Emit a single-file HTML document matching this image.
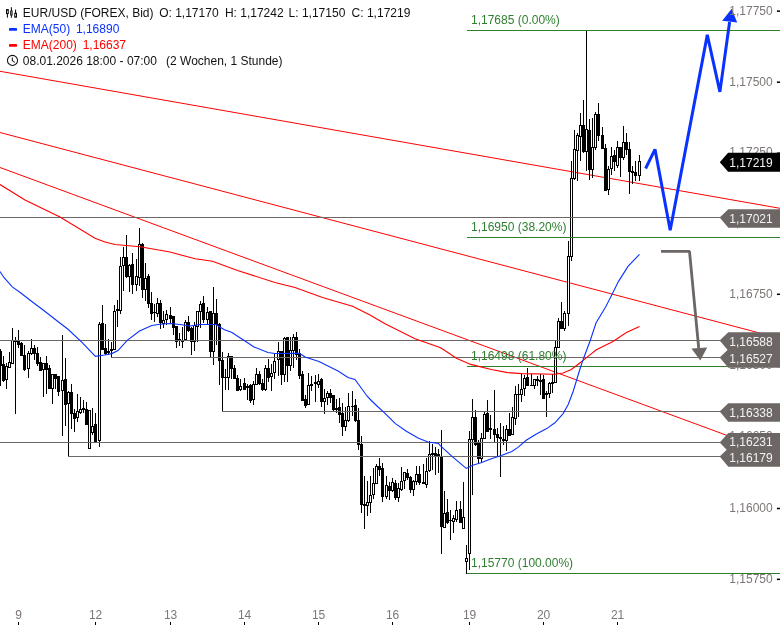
<!DOCTYPE html><html><head><meta charset="utf-8"><title>EUR/USD</title><style>html,body{margin:0;padding:0;background:#fff}body{width:780px;height:625px;overflow:hidden;position:relative;font-family:"Liberation Sans",sans-serif}svg{position:absolute;left:0;top:0;will-change:transform}text{font-family:"Liberation Sans",sans-serif;font-size:12px}</style></head><body>
<svg width="780" height="625" viewBox="0 0 780 625">
<g fill="#7d7775" text-anchor="middle">
<text x="18.6" y="619">9</text>
<rect x="18" y="622" width="1" height="3" fill="#000" shape-rendering="crispEdges"/>
<text x="95.6" y="619">12</text>
<rect x="95" y="622" width="1" height="3" fill="#000" shape-rendering="crispEdges"/>
<text x="170.6" y="619">13</text>
<rect x="170" y="622" width="1" height="3" fill="#000" shape-rendering="crispEdges"/>
<text x="244.6" y="619">14</text>
<rect x="244" y="622" width="1" height="3" fill="#000" shape-rendering="crispEdges"/>
<text x="318.6" y="619">15</text>
<rect x="318" y="622" width="1" height="3" fill="#000" shape-rendering="crispEdges"/>
<text x="392.6" y="619">16</text>
<rect x="392" y="622" width="1" height="3" fill="#000" shape-rendering="crispEdges"/>
<text x="469.6" y="619">19</text>
<rect x="469" y="622" width="1" height="3" fill="#000" shape-rendering="crispEdges"/>
<text x="543.6" y="619">20</text>
<rect x="543" y="622" width="1" height="3" fill="#000" shape-rendering="crispEdges"/>
<text x="617.6" y="619">21</text>
<rect x="617" y="622" width="1" height="3" fill="#000" shape-rendering="crispEdges"/>
</g>
<g stroke="#ff0000" stroke-width="1" fill="none">
<line x1="0" y1="71.3" x2="780" y2="208.3"/>
<line x1="0" y1="132.5" x2="780" y2="338.4"/>
<line x1="0" y1="167.5" x2="728" y2="435.8"/>
</g>
<g shape-rendering="crispEdges">
<rect x="0" y="349" width="1" height="37" fill="#000"/>
<rect x="3" y="356" width="1" height="26" fill="#000"/>
<rect x="6" y="363" width="1" height="26" fill="#000"/>
<rect x="9" y="352" width="1" height="16" fill="#000"/>
<rect x="12" y="328" width="1" height="36" fill="#000"/>
<rect x="15" y="337" width="1" height="77" fill="#000"/>
<rect x="18" y="330" width="1" height="18" fill="#000"/>
<rect x="21" y="342" width="1" height="14" fill="#000"/>
<rect x="24" y="345" width="1" height="26" fill="#000"/>
<rect x="28" y="351" width="1" height="27" fill="#000"/>
<rect x="31" y="339" width="1" height="16" fill="#000"/>
<rect x="34" y="345" width="1" height="15" fill="#000"/>
<rect x="37" y="347" width="1" height="19" fill="#000"/>
<rect x="40" y="357" width="1" height="14" fill="#000"/>
<rect x="43" y="363" width="1" height="34" fill="#000"/>
<rect x="46" y="356" width="1" height="38" fill="#000"/>
<rect x="49" y="365" width="1" height="24" fill="#000"/>
<rect x="52" y="374" width="1" height="30" fill="#000"/>
<rect x="55" y="374" width="1" height="15" fill="#000"/>
<rect x="58" y="376" width="1" height="20" fill="#000"/>
<rect x="62" y="335" width="1" height="101" fill="#000"/>
<rect x="65" y="358" width="1" height="68" fill="#000"/>
<rect x="68" y="391" width="1" height="66" fill="#000"/>
<rect x="71" y="384" width="1" height="45" fill="#000"/>
<rect x="74" y="409" width="1" height="23" fill="#000"/>
<rect x="77" y="394" width="1" height="28" fill="#000"/>
<rect x="80" y="397" width="1" height="17" fill="#000"/>
<rect x="83" y="400" width="1" height="13" fill="#000"/>
<rect x="86" y="402" width="1" height="23" fill="#000"/>
<rect x="89" y="410" width="1" height="39" fill="#000"/>
<rect x="92" y="408" width="1" height="27" fill="#000"/>
<rect x="95" y="413" width="1" height="30" fill="#000"/>
<rect x="99" y="322" width="1" height="125" fill="#000"/>
<rect x="102" y="305" width="1" height="45" fill="#000"/>
<rect x="105" y="324" width="1" height="31" fill="#000"/>
<rect x="108" y="339" width="1" height="16" fill="#000"/>
<rect x="111" y="342" width="1" height="16" fill="#000"/>
<rect x="114" y="305" width="1" height="45" fill="#000"/>
<rect x="117" y="300" width="1" height="27" fill="#000"/>
<rect x="120" y="257" width="1" height="57" fill="#000"/>
<rect x="123" y="247" width="1" height="44" fill="#000"/>
<rect x="126" y="235" width="1" height="43" fill="#000"/>
<rect x="129" y="264" width="1" height="28" fill="#000"/>
<rect x="132" y="253" width="1" height="41" fill="#000"/>
<rect x="136" y="259" width="1" height="32" fill="#000"/>
<rect x="139" y="228" width="1" height="58" fill="#000"/>
<rect x="142" y="243" width="1" height="55" fill="#000"/>
<rect x="145" y="263" width="1" height="38" fill="#000"/>
<rect x="148" y="274" width="1" height="34" fill="#000"/>
<rect x="151" y="292" width="1" height="28" fill="#000"/>
<rect x="154" y="304" width="1" height="18" fill="#000"/>
<rect x="157" y="298" width="1" height="19" fill="#000"/>
<rect x="160" y="300" width="1" height="29" fill="#000"/>
<rect x="163" y="311" width="1" height="17" fill="#000"/>
<rect x="166" y="310" width="1" height="15" fill="#000"/>
<rect x="170" y="307" width="1" height="16" fill="#000"/>
<rect x="173" y="316" width="1" height="19" fill="#000"/>
<rect x="176" y="326" width="1" height="22" fill="#000"/>
<rect x="179" y="333" width="1" height="13" fill="#000"/>
<rect x="182" y="327" width="1" height="21" fill="#000"/>
<rect x="185" y="320" width="1" height="20" fill="#000"/>
<rect x="188" y="316" width="1" height="16" fill="#000"/>
<rect x="191" y="327" width="1" height="28" fill="#000"/>
<rect x="194" y="322" width="1" height="29" fill="#000"/>
<rect x="197" y="311" width="1" height="31" fill="#000"/>
<rect x="200" y="301" width="1" height="27" fill="#000"/>
<rect x="203" y="296" width="1" height="27" fill="#000"/>
<rect x="207" y="307" width="1" height="17" fill="#000"/>
<rect x="210" y="311" width="1" height="47" fill="#000"/>
<rect x="213" y="287" width="1" height="78" fill="#000"/>
<rect x="216" y="299" width="1" height="46" fill="#000"/>
<rect x="219" y="323" width="1" height="62" fill="#000"/>
<rect x="222" y="352" width="1" height="60" fill="#000"/>
<rect x="225" y="369" width="1" height="21" fill="#000"/>
<rect x="228" y="353" width="1" height="37" fill="#000"/>
<rect x="231" y="356" width="1" height="23" fill="#000"/>
<rect x="234" y="365" width="1" height="14" fill="#000"/>
<rect x="237" y="375" width="1" height="16" fill="#000"/>
<rect x="240" y="379" width="1" height="12" fill="#000"/>
<rect x="244" y="378" width="1" height="12" fill="#000"/>
<rect x="247" y="384" width="1" height="16" fill="#000"/>
<rect x="250" y="384" width="1" height="19" fill="#000"/>
<rect x="253" y="381" width="1" height="24" fill="#000"/>
<rect x="256" y="368" width="1" height="17" fill="#000"/>
<rect x="259" y="371" width="1" height="14" fill="#000"/>
<rect x="262" y="379" width="1" height="12" fill="#000"/>
<rect x="265" y="365" width="1" height="26" fill="#000"/>
<rect x="268" y="359" width="1" height="23" fill="#000"/>
<rect x="271" y="364" width="1" height="27" fill="#000"/>
<rect x="274" y="354" width="1" height="25" fill="#000"/>
<rect x="278" y="342" width="1" height="34" fill="#000"/>
<rect x="281" y="351" width="1" height="34" fill="#000"/>
<rect x="284" y="337" width="1" height="45" fill="#000"/>
<rect x="287" y="337" width="1" height="45" fill="#000"/>
<rect x="290" y="337" width="1" height="34" fill="#000"/>
<rect x="293" y="334" width="1" height="34" fill="#000"/>
<rect x="296" y="332" width="1" height="28" fill="#000"/>
<rect x="299" y="349" width="1" height="30" fill="#000"/>
<rect x="302" y="371" width="1" height="30" fill="#000"/>
<rect x="305" y="395" width="1" height="13" fill="#000"/>
<rect x="308" y="373" width="1" height="32" fill="#000"/>
<rect x="311" y="376" width="1" height="15" fill="#000"/>
<rect x="315" y="375" width="1" height="27" fill="#000"/>
<rect x="318" y="374" width="1" height="14" fill="#000"/>
<rect x="321" y="378" width="1" height="29" fill="#000"/>
<rect x="324" y="389" width="1" height="25" fill="#000"/>
<rect x="327" y="391" width="1" height="14" fill="#000"/>
<rect x="330" y="389" width="1" height="14" fill="#000"/>
<rect x="333" y="395" width="1" height="16" fill="#000"/>
<rect x="336" y="399" width="1" height="14" fill="#000"/>
<rect x="339" y="398" width="1" height="25" fill="#000"/>
<rect x="342" y="403" width="1" height="33" fill="#000"/>
<rect x="345" y="407" width="1" height="24" fill="#000"/>
<rect x="348" y="393" width="1" height="29" fill="#000"/>
<rect x="352" y="391" width="1" height="25" fill="#000"/>
<rect x="355" y="399" width="1" height="23" fill="#000"/>
<rect x="358" y="408" width="1" height="42" fill="#000"/>
<rect x="361" y="436" width="1" height="77" fill="#000"/>
<rect x="364" y="476" width="1" height="53" fill="#000"/>
<rect x="367" y="481" width="1" height="35" fill="#000"/>
<rect x="370" y="476" width="1" height="37" fill="#000"/>
<rect x="373" y="468" width="1" height="31" fill="#000"/>
<rect x="376" y="464" width="1" height="20" fill="#000"/>
<rect x="379" y="458" width="1" height="18" fill="#000"/>
<rect x="382" y="463" width="1" height="39" fill="#000"/>
<rect x="386" y="476" width="1" height="23" fill="#000"/>
<rect x="389" y="482" width="1" height="18" fill="#000"/>
<rect x="392" y="478" width="1" height="14" fill="#000"/>
<rect x="395" y="480" width="1" height="20" fill="#000"/>
<rect x="398" y="483" width="1" height="19" fill="#000"/>
<rect x="401" y="467" width="1" height="24" fill="#000"/>
<rect x="404" y="472" width="1" height="17" fill="#000"/>
<rect x="407" y="469" width="1" height="11" fill="#000"/>
<rect x="410" y="476" width="1" height="17" fill="#000"/>
<rect x="413" y="480" width="1" height="16" fill="#000"/>
<rect x="416" y="466" width="1" height="19" fill="#000"/>
<rect x="419" y="466" width="1" height="19" fill="#000"/>
<rect x="423" y="464" width="1" height="20" fill="#000"/>
<rect x="426" y="458" width="1" height="30" fill="#000"/>
<rect x="429" y="441" width="1" height="31" fill="#000"/>
<rect x="432" y="444" width="1" height="26" fill="#000"/>
<rect x="435" y="447" width="1" height="28" fill="#000"/>
<rect x="438" y="449" width="1" height="24" fill="#000"/>
<rect x="441" y="430" width="1" height="124" fill="#000"/>
<rect x="444" y="491" width="1" height="37" fill="#000"/>
<rect x="447" y="499" width="1" height="25" fill="#000"/>
<rect x="450" y="510" width="1" height="30" fill="#000"/>
<rect x="453" y="515" width="1" height="18" fill="#000"/>
<rect x="456" y="501" width="1" height="21" fill="#000"/>
<rect x="460" y="501" width="1" height="22" fill="#000"/>
<rect x="463" y="482" width="1" height="47" fill="#000"/>
<rect x="466" y="545" width="1" height="29" fill="#000"/>
<rect x="469" y="431" width="1" height="139" fill="#000"/>
<rect x="472" y="399" width="1" height="96" fill="#000"/>
<rect x="475" y="410" width="1" height="36" fill="#000"/>
<rect x="478" y="440" width="1" height="23" fill="#000"/>
<rect x="481" y="433" width="1" height="29" fill="#000"/>
<rect x="484" y="412" width="1" height="27" fill="#000"/>
<rect x="487" y="400" width="1" height="32" fill="#000"/>
<rect x="490" y="415" width="1" height="24" fill="#000"/>
<rect x="494" y="390" width="1" height="53" fill="#000"/>
<rect x="497" y="428" width="1" height="29" fill="#000"/>
<rect x="500" y="423" width="1" height="54" fill="#000"/>
<rect x="503" y="426" width="1" height="19" fill="#000"/>
<rect x="506" y="425" width="1" height="26" fill="#000"/>
<rect x="509" y="413" width="1" height="23" fill="#000"/>
<rect x="512" y="407" width="1" height="28" fill="#000"/>
<rect x="515" y="386" width="1" height="39" fill="#000"/>
<rect x="518" y="384" width="1" height="33" fill="#000"/>
<rect x="521" y="374" width="1" height="28" fill="#000"/>
<rect x="524" y="375" width="1" height="21" fill="#000"/>
<rect x="527" y="368" width="1" height="18" fill="#000"/>
<rect x="531" y="374" width="1" height="12" fill="#000"/>
<rect x="534" y="379" width="1" height="10" fill="#000"/>
<rect x="537" y="376" width="1" height="10" fill="#000"/>
<rect x="540" y="374" width="1" height="21" fill="#000"/>
<rect x="543" y="375" width="1" height="24" fill="#000"/>
<rect x="546" y="391" width="1" height="26" fill="#000"/>
<rect x="549" y="382" width="1" height="16" fill="#000"/>
<rect x="552" y="374" width="1" height="19" fill="#000"/>
<rect x="555" y="340" width="1" height="43" fill="#000"/>
<rect x="558" y="318" width="1" height="30" fill="#000"/>
<rect x="561" y="302" width="1" height="27" fill="#000"/>
<rect x="564" y="311" width="1" height="20" fill="#000"/>
<rect x="568" y="241" width="1" height="85" fill="#000"/>
<rect x="571" y="161" width="1" height="100" fill="#000"/>
<rect x="574" y="130" width="1" height="50" fill="#000"/>
<rect x="577" y="133" width="1" height="48" fill="#000"/>
<rect x="580" y="113" width="1" height="48" fill="#000"/>
<rect x="583" y="100" width="1" height="53" fill="#000"/>
<rect x="586" y="30" width="1" height="141" fill="#000"/>
<rect x="589" y="119" width="1" height="61" fill="#000"/>
<rect x="592" y="118" width="1" height="60" fill="#000"/>
<rect x="595" y="112" width="1" height="38" fill="#000"/>
<rect x="598" y="103" width="1" height="38" fill="#000"/>
<rect x="602" y="127" width="1" height="22" fill="#000"/>
<rect x="605" y="144" width="1" height="47" fill="#000"/>
<rect x="608" y="166" width="1" height="29" fill="#000"/>
<rect x="611" y="147" width="1" height="28" fill="#000"/>
<rect x="614" y="150" width="1" height="21" fill="#000"/>
<rect x="617" y="141" width="1" height="27" fill="#000"/>
<rect x="620" y="147" width="1" height="30" fill="#000"/>
<rect x="623" y="126" width="1" height="34" fill="#000"/>
<rect x="626" y="133" width="1" height="22" fill="#000"/>
<rect x="629" y="142" width="1" height="52" fill="#000"/>
<rect x="632" y="166" width="1" height="18" fill="#000"/>
<rect x="635" y="161" width="1" height="20" fill="#000"/>
<rect x="639" y="155" width="1" height="26" fill="#000"/>
<rect x="-1" y="351" width="3" height="15" fill="#000"/>
<rect x="2" y="364" width="3" height="17" fill="#000"/>
<rect x="5" y="366" width="3" height="14" fill="#000"/><rect x="6" y="367" width="1" height="12" fill="#fff"/>
<rect x="8" y="362" width="3" height="6" fill="#000"/><rect x="9" y="363" width="1" height="4" fill="#fff"/>
<rect x="11" y="340" width="3" height="24" fill="#000"/><rect x="12" y="341" width="1" height="22" fill="#fff"/>
<rect x="14" y="340" width="3" height="2" fill="#000"/>
<rect x="17" y="341" width="3" height="4" fill="#000"/>
<rect x="20" y="343" width="3" height="13" fill="#000"/>
<rect x="23" y="355" width="3" height="15" fill="#000"/>
<rect x="27" y="353" width="3" height="16" fill="#000"/><rect x="28" y="354" width="1" height="14" fill="#fff"/>
<rect x="30" y="348" width="3" height="6" fill="#000"/><rect x="31" y="349" width="1" height="4" fill="#fff"/>
<rect x="33" y="348" width="3" height="6" fill="#000"/>
<rect x="36" y="353" width="3" height="11" fill="#000"/>
<rect x="39" y="362" width="3" height="9" fill="#000"/>
<rect x="42" y="363" width="3" height="7" fill="#000"/><rect x="43" y="364" width="1" height="5" fill="#fff"/>
<rect x="45" y="363" width="3" height="7" fill="#000"/>
<rect x="48" y="368" width="3" height="21" fill="#000"/>
<rect x="51" y="374" width="3" height="15" fill="#000"/><rect x="52" y="375" width="1" height="13" fill="#fff"/>
<rect x="54" y="374" width="3" height="5" fill="#000"/>
<rect x="57" y="376" width="3" height="16" fill="#000"/>
<rect x="61" y="380" width="3" height="11" fill="#000"/><rect x="62" y="381" width="1" height="9" fill="#fff"/>
<rect x="64" y="379" width="3" height="26" fill="#000"/>
<rect x="67" y="392" width="3" height="12" fill="#000"/><rect x="68" y="393" width="1" height="10" fill="#fff"/>
<rect x="70" y="392" width="3" height="22" fill="#000"/>
<rect x="73" y="413" width="3" height="6" fill="#000"/>
<rect x="76" y="411" width="3" height="7" fill="#000"/><rect x="77" y="412" width="1" height="5" fill="#fff"/>
<rect x="79" y="409" width="3" height="4" fill="#000"/><rect x="80" y="410" width="1" height="2" fill="#fff"/>
<rect x="82" y="408" width="3" height="2" fill="#000"/>
<rect x="85" y="409" width="3" height="16" fill="#000"/>
<rect x="88" y="410" width="3" height="39" fill="#000"/><rect x="89" y="411" width="1" height="37" fill="#fff"/>
<rect x="91" y="426" width="3" height="7" fill="#000"/><rect x="92" y="427" width="1" height="5" fill="#fff"/>
<rect x="94" y="424" width="3" height="18" fill="#000"/>
<rect x="98" y="324" width="3" height="117" fill="#000"/><rect x="99" y="325" width="1" height="115" fill="#fff"/>
<rect x="101" y="323" width="3" height="27" fill="#000"/>
<rect x="104" y="348" width="3" height="6" fill="#000"/>
<rect x="107" y="351" width="3" height="2" fill="#000"/>
<rect x="110" y="349" width="3" height="2" fill="#000"/>
<rect x="113" y="311" width="3" height="39" fill="#000"/><rect x="114" y="312" width="1" height="37" fill="#fff"/>
<rect x="116" y="309" width="3" height="2" fill="#000"/>
<rect x="119" y="266" width="3" height="45" fill="#000"/><rect x="120" y="267" width="1" height="43" fill="#fff"/>
<rect x="122" y="257" width="3" height="9" fill="#000"/><rect x="123" y="258" width="1" height="7" fill="#fff"/>
<rect x="125" y="257" width="3" height="20" fill="#000"/>
<rect x="128" y="265" width="3" height="12" fill="#000"/><rect x="129" y="266" width="1" height="10" fill="#fff"/>
<rect x="131" y="264" width="3" height="21" fill="#000"/>
<rect x="135" y="276" width="3" height="9" fill="#000"/><rect x="136" y="277" width="1" height="7" fill="#fff"/>
<rect x="138" y="244" width="3" height="34" fill="#000"/><rect x="139" y="245" width="1" height="32" fill="#fff"/>
<rect x="141" y="244" width="3" height="46" fill="#000"/>
<rect x="144" y="278" width="3" height="12" fill="#000"/><rect x="145" y="279" width="1" height="10" fill="#fff"/>
<rect x="147" y="276" width="3" height="28" fill="#000"/>
<rect x="150" y="303" width="3" height="11" fill="#000"/>
<rect x="153" y="312" width="3" height="1" fill="#000"/>
<rect x="156" y="303" width="3" height="11" fill="#000"/><rect x="157" y="304" width="1" height="9" fill="#fff"/>
<rect x="159" y="303" width="3" height="20" fill="#000"/>
<rect x="162" y="320" width="3" height="4" fill="#000"/><rect x="163" y="321" width="1" height="2" fill="#fff"/>
<rect x="165" y="314" width="3" height="6" fill="#000"/><rect x="166" y="315" width="1" height="4" fill="#fff"/>
<rect x="169" y="315" width="3" height="4" fill="#000"/>
<rect x="172" y="316" width="3" height="12" fill="#000"/>
<rect x="175" y="326" width="3" height="16" fill="#000"/>
<rect x="178" y="339" width="3" height="2" fill="#000"/>
<rect x="181" y="340" width="3" height="2" fill="#000"/>
<rect x="184" y="322" width="3" height="18" fill="#000"/><rect x="185" y="323" width="1" height="16" fill="#fff"/>
<rect x="187" y="322" width="3" height="9" fill="#000"/>
<rect x="190" y="328" width="3" height="14" fill="#000"/>
<rect x="193" y="325" width="3" height="17" fill="#000"/><rect x="194" y="326" width="1" height="15" fill="#fff"/>
<rect x="196" y="311" width="3" height="16" fill="#000"/><rect x="197" y="312" width="1" height="14" fill="#fff"/>
<rect x="199" y="304" width="3" height="8" fill="#000"/><rect x="200" y="305" width="1" height="6" fill="#fff"/>
<rect x="202" y="303" width="3" height="17" fill="#000"/>
<rect x="206" y="312" width="3" height="8" fill="#000"/><rect x="207" y="313" width="1" height="6" fill="#fff"/>
<rect x="209" y="311" width="3" height="41" fill="#000"/>
<rect x="212" y="313" width="3" height="39" fill="#000"/><rect x="213" y="314" width="1" height="37" fill="#fff"/>
<rect x="215" y="313" width="3" height="12" fill="#000"/>
<rect x="218" y="324" width="3" height="37" fill="#000"/>
<rect x="221" y="360" width="3" height="18" fill="#000"/>
<rect x="224" y="377" width="3" height="1" fill="#000"/>
<rect x="227" y="356" width="3" height="22" fill="#000"/><rect x="228" y="357" width="1" height="20" fill="#fff"/>
<rect x="230" y="356" width="3" height="13" fill="#000"/>
<rect x="233" y="368" width="3" height="11" fill="#000"/>
<rect x="236" y="378" width="3" height="13" fill="#000"/>
<rect x="239" y="386" width="3" height="4" fill="#000"/><rect x="240" y="387" width="1" height="2" fill="#fff"/>
<rect x="243" y="383" width="3" height="7" fill="#000"/>
<rect x="246" y="386" width="3" height="2" fill="#000"/>
<rect x="249" y="385" width="3" height="16" fill="#000"/>
<rect x="252" y="384" width="3" height="16" fill="#000"/><rect x="253" y="385" width="1" height="14" fill="#fff"/>
<rect x="255" y="374" width="3" height="11" fill="#000"/><rect x="256" y="375" width="1" height="9" fill="#fff"/>
<rect x="258" y="374" width="3" height="10" fill="#000"/>
<rect x="261" y="383" width="3" height="7" fill="#000"/>
<rect x="264" y="368" width="3" height="22" fill="#000"/><rect x="265" y="369" width="1" height="20" fill="#fff"/>
<rect x="267" y="368" width="3" height="10" fill="#000"/>
<rect x="270" y="373" width="3" height="4" fill="#000"/><rect x="271" y="374" width="1" height="2" fill="#fff"/>
<rect x="273" y="361" width="3" height="12" fill="#000"/><rect x="274" y="362" width="1" height="10" fill="#fff"/>
<rect x="277" y="351" width="3" height="9" fill="#000"/><rect x="278" y="352" width="1" height="7" fill="#fff"/>
<rect x="280" y="351" width="3" height="24" fill="#000"/>
<rect x="283" y="338" width="3" height="37" fill="#000"/><rect x="284" y="339" width="1" height="35" fill="#fff"/>
<rect x="286" y="337" width="3" height="29" fill="#000"/>
<rect x="289" y="350" width="3" height="16" fill="#000"/><rect x="290" y="351" width="1" height="14" fill="#fff"/>
<rect x="292" y="337" width="3" height="14" fill="#000"/><rect x="293" y="338" width="1" height="12" fill="#fff"/>
<rect x="295" y="337" width="3" height="18" fill="#000"/>
<rect x="298" y="353" width="3" height="23" fill="#000"/>
<rect x="301" y="374" width="3" height="27" fill="#000"/>
<rect x="304" y="399" width="3" height="7" fill="#000"/>
<rect x="307" y="385" width="3" height="20" fill="#000"/><rect x="308" y="386" width="1" height="18" fill="#fff"/>
<rect x="310" y="384" width="3" height="2" fill="#000"/>
<rect x="314" y="382" width="3" height="2" fill="#000"/>
<rect x="317" y="381" width="3" height="4" fill="#000"/><rect x="318" y="382" width="1" height="2" fill="#fff"/>
<rect x="320" y="379" width="3" height="23" fill="#000"/>
<rect x="323" y="398" width="3" height="4" fill="#000"/><rect x="324" y="399" width="1" height="2" fill="#fff"/>
<rect x="326" y="393" width="3" height="5" fill="#000"/><rect x="327" y="394" width="1" height="3" fill="#fff"/>
<rect x="329" y="393" width="3" height="5" fill="#000"/>
<rect x="332" y="395" width="3" height="15" fill="#000"/>
<rect x="335" y="408" width="3" height="2" fill="#000"/>
<rect x="338" y="407" width="3" height="8" fill="#000"/>
<rect x="341" y="413" width="3" height="14" fill="#000"/>
<rect x="344" y="420" width="3" height="7" fill="#000"/><rect x="345" y="421" width="1" height="5" fill="#fff"/>
<rect x="347" y="406" width="3" height="15" fill="#000"/><rect x="348" y="407" width="1" height="13" fill="#fff"/>
<rect x="351" y="406" width="3" height="1" fill="#000"/>
<rect x="354" y="405" width="3" height="16" fill="#000"/>
<rect x="357" y="420" width="3" height="25" fill="#000"/>
<rect x="360" y="444" width="3" height="61" fill="#000"/>
<rect x="363" y="504" width="3" height="2" fill="#000"/>
<rect x="366" y="502" width="3" height="4" fill="#000"/><rect x="367" y="503" width="1" height="2" fill="#fff"/>
<rect x="369" y="495" width="3" height="8" fill="#000"/><rect x="370" y="496" width="1" height="6" fill="#fff"/>
<rect x="372" y="483" width="3" height="12" fill="#000"/><rect x="373" y="484" width="1" height="10" fill="#fff"/>
<rect x="375" y="466" width="3" height="18" fill="#000"/><rect x="376" y="467" width="1" height="16" fill="#fff"/>
<rect x="378" y="466" width="3" height="4" fill="#000"/>
<rect x="381" y="468" width="3" height="29" fill="#000"/>
<rect x="385" y="485" width="3" height="12" fill="#000"/><rect x="386" y="486" width="1" height="10" fill="#fff"/>
<rect x="388" y="486" width="3" height="5" fill="#000"/>
<rect x="391" y="482" width="3" height="9" fill="#000"/><rect x="392" y="483" width="1" height="7" fill="#fff"/>
<rect x="394" y="483" width="3" height="15" fill="#000"/>
<rect x="397" y="488" width="3" height="10" fill="#000"/><rect x="398" y="489" width="1" height="8" fill="#fff"/>
<rect x="400" y="481" width="3" height="9" fill="#000"/><rect x="401" y="482" width="1" height="7" fill="#fff"/>
<rect x="403" y="472" width="3" height="9" fill="#000"/><rect x="404" y="473" width="1" height="7" fill="#fff"/>
<rect x="406" y="473" width="3" height="5" fill="#000"/>
<rect x="409" y="477" width="3" height="13" fill="#000"/>
<rect x="412" y="481" width="3" height="9" fill="#000"/><rect x="413" y="482" width="1" height="7" fill="#fff"/>
<rect x="415" y="474" width="3" height="8" fill="#000"/><rect x="416" y="475" width="1" height="6" fill="#fff"/>
<rect x="418" y="474" width="3" height="9" fill="#000"/>
<rect x="422" y="482" width="3" height="2" fill="#000"/>
<rect x="425" y="471" width="3" height="14" fill="#000"/><rect x="426" y="472" width="1" height="12" fill="#fff"/>
<rect x="428" y="454" width="3" height="17" fill="#000"/><rect x="429" y="455" width="1" height="15" fill="#fff"/>
<rect x="431" y="453" width="3" height="2" fill="#000"/>
<rect x="434" y="453" width="3" height="4" fill="#000"/>
<rect x="437" y="454" width="3" height="2" fill="#000"/>
<rect x="440" y="456" width="3" height="71" fill="#000"/>
<rect x="443" y="513" width="3" height="15" fill="#000"/><rect x="444" y="514" width="1" height="13" fill="#fff"/>
<rect x="446" y="512" width="3" height="11" fill="#000"/>
<rect x="449" y="520" width="3" height="1" fill="#000"/>
<rect x="452" y="518" width="3" height="4" fill="#000"/><rect x="453" y="519" width="1" height="2" fill="#fff"/>
<rect x="455" y="510" width="3" height="10" fill="#000"/><rect x="456" y="511" width="1" height="8" fill="#fff"/>
<rect x="459" y="509" width="3" height="14" fill="#000"/>
<rect x="462" y="517" width="3" height="12" fill="#000"/><rect x="463" y="518" width="1" height="10" fill="#fff"/>
<rect x="465" y="558" width="3" height="4" fill="#000"/><rect x="466" y="559" width="1" height="2" fill="#fff"/>
<rect x="468" y="439" width="3" height="115" fill="#000"/><rect x="469" y="440" width="1" height="113" fill="#fff"/>
<rect x="471" y="417" width="3" height="23" fill="#000"/><rect x="472" y="418" width="1" height="21" fill="#fff"/>
<rect x="474" y="417" width="3" height="28" fill="#000"/>
<rect x="477" y="443" width="3" height="16" fill="#000"/>
<rect x="480" y="438" width="3" height="21" fill="#000"/><rect x="481" y="439" width="1" height="19" fill="#fff"/>
<rect x="483" y="414" width="3" height="25" fill="#000"/><rect x="484" y="415" width="1" height="23" fill="#fff"/>
<rect x="486" y="413" width="3" height="19" fill="#000"/>
<rect x="489" y="428" width="3" height="2" fill="#000"/>
<rect x="493" y="429" width="3" height="6" fill="#000"/>
<rect x="496" y="434" width="3" height="4" fill="#000"/>
<rect x="499" y="437" width="3" height="2" fill="#000"/>
<rect x="502" y="439" width="3" height="2" fill="#000"/>
<rect x="505" y="429" width="3" height="12" fill="#000"/><rect x="506" y="430" width="1" height="10" fill="#fff"/>
<rect x="508" y="429" width="3" height="7" fill="#000"/>
<rect x="511" y="417" width="3" height="18" fill="#000"/><rect x="512" y="418" width="1" height="16" fill="#fff"/>
<rect x="514" y="394" width="3" height="25" fill="#000"/><rect x="515" y="395" width="1" height="23" fill="#fff"/>
<rect x="517" y="394" width="3" height="1" fill="#000"/>
<rect x="520" y="389" width="3" height="6" fill="#000"/><rect x="521" y="390" width="1" height="4" fill="#fff"/>
<rect x="523" y="378" width="3" height="11" fill="#000"/><rect x="524" y="379" width="1" height="9" fill="#fff"/>
<rect x="526" y="377" width="3" height="9" fill="#000"/>
<rect x="530" y="385" width="3" height="1" fill="#000"/>
<rect x="533" y="379" width="3" height="7" fill="#000"/><rect x="534" y="380" width="1" height="5" fill="#fff"/>
<rect x="536" y="379" width="3" height="2" fill="#000"/>
<rect x="539" y="380" width="3" height="2" fill="#000"/>
<rect x="542" y="379" width="3" height="20" fill="#000"/>
<rect x="545" y="393" width="3" height="2" fill="#000"/>
<rect x="548" y="383" width="3" height="11" fill="#000"/><rect x="549" y="384" width="1" height="9" fill="#fff"/>
<rect x="551" y="382" width="3" height="2" fill="#000"/>
<rect x="554" y="347" width="3" height="36" fill="#000"/><rect x="555" y="348" width="1" height="34" fill="#fff"/>
<rect x="557" y="321" width="3" height="27" fill="#000"/><rect x="558" y="322" width="1" height="25" fill="#fff"/>
<rect x="560" y="321" width="3" height="8" fill="#000"/>
<rect x="563" y="313" width="3" height="16" fill="#000"/><rect x="564" y="314" width="1" height="14" fill="#fff"/>
<rect x="567" y="256" width="3" height="58" fill="#000"/><rect x="568" y="257" width="1" height="56" fill="#fff"/>
<rect x="570" y="178" width="3" height="79" fill="#000"/><rect x="571" y="179" width="1" height="77" fill="#fff"/>
<rect x="573" y="149" width="3" height="30" fill="#000"/><rect x="574" y="150" width="1" height="28" fill="#fff"/>
<rect x="576" y="135" width="3" height="16" fill="#000"/><rect x="577" y="136" width="1" height="14" fill="#fff"/>
<rect x="579" y="125" width="3" height="12" fill="#000"/><rect x="580" y="126" width="1" height="10" fill="#fff"/>
<rect x="582" y="125" width="3" height="27" fill="#000"/>
<rect x="585" y="129" width="3" height="23" fill="#000"/><rect x="586" y="130" width="1" height="21" fill="#fff"/>
<rect x="588" y="130" width="3" height="40" fill="#000"/>
<rect x="591" y="147" width="3" height="23" fill="#000"/><rect x="592" y="148" width="1" height="21" fill="#fff"/>
<rect x="594" y="114" width="3" height="34" fill="#000"/><rect x="595" y="115" width="1" height="32" fill="#fff"/>
<rect x="597" y="114" width="3" height="22" fill="#000"/>
<rect x="601" y="135" width="3" height="14" fill="#000"/>
<rect x="604" y="148" width="3" height="43" fill="#000"/>
<rect x="607" y="169" width="3" height="21" fill="#000"/><rect x="608" y="170" width="1" height="19" fill="#fff"/>
<rect x="610" y="156" width="3" height="13" fill="#000"/><rect x="611" y="157" width="1" height="11" fill="#fff"/>
<rect x="613" y="155" width="3" height="7" fill="#000"/>
<rect x="616" y="147" width="3" height="19" fill="#000"/><rect x="617" y="148" width="1" height="17" fill="#fff"/>
<rect x="619" y="147" width="3" height="11" fill="#000"/>
<rect x="622" y="142" width="3" height="16" fill="#000"/><rect x="623" y="143" width="1" height="14" fill="#fff"/>
<rect x="625" y="142" width="3" height="8" fill="#000"/>
<rect x="628" y="149" width="3" height="23" fill="#000"/>
<rect x="631" y="171" width="3" height="2" fill="#000"/>
<rect x="634" y="172" width="3" height="4" fill="#000"/>
<rect x="638" y="161" width="3" height="15" fill="#000"/><rect x="639" y="162" width="1" height="13" fill="#fff"/>
</g>
<g fill="#6c6765" shape-rendering="crispEdges">
<rect x="0" y="217" width="780" height="1"/>
<rect x="0" y="340" width="780" height="1"/>
<rect x="111" y="357" width="669" height="1"/>
<rect x="222" y="411" width="558" height="1"/>
<rect x="0" y="442" width="780" height="1"/>
<rect x="68" y="456" width="712" height="1"/>
</g>
<g fill="#2f7f2f" shape-rendering="crispEdges">
<rect x="467" y="30" width="313" height="1"/>
<rect x="467" y="237" width="313" height="1"/>
<rect x="467" y="366" width="313" height="1"/>
<rect x="467" y="573" width="313" height="1"/>
</g>
<g fill="#2f7f2f">
<text x="471" y="24">1,17685 (0.00%)</text>
<text x="471" y="231">1,16950 (38.20%)</text>
<text x="471" y="359.5">1,16498 (61.80%)</text>
<text x="471" y="566.5">1,15770 (100.00%)</text>
</g>
<polyline points="0,184.5 25,200 60,217 95,238.3 105,242 115,244.5 140,246.8 170,252 195,258.8 204,260 212.5,261.3 237.5,270.5 275,282.5 295,287.5 322.5,297.5 352.5,306.3 370,315 385,323.8 415,338.8 440,347.5 444.1,350 456.4,358.2 470.8,364.4 491.3,369.5 507.7,372.6 522,373.6 554.9,374.2 563.1,373 571.3,369.5 579.5,363.3 589.7,355.1 595.9,350 613,341.5 626.4,332.5 639.5,326.4" stroke="#ff0000" stroke-width="1.1" fill="none"/>
<polyline points="0,271.5 4.1,277.7 12.3,286.9 20.5,292.7 32.8,302.3 45.1,311.5 59.5,322.8 67.7,329 82,342.3 95.4,356.3 104.6,355 111.8,353.6 118,350.5 127.2,340.3 139.5,331 151.8,325.5 160,324.2 170,323.5 180,324.5 190,326 200,324.5 216,324.5 224,329.5 232,332.5 238,336.5 245,341 254,347 268,352.5 275,353.5 299,353.3 303,355.5 305,357 319,361.5 338,371 348,377.5 355,379.5 367,396 370.8,400 377,406 384,412.3 395.4,423.6 406,431 418,438 428,442 438.5,443.5 440,445.4 452.3,456.7 466.3,468.4 472.8,465.3 481,462.8 491.3,458.7 501.5,455.6 511.8,451.5 518,447.4 526.2,440.3 536.4,434.1 546.7,428.6 554.9,422.8 563.1,413.6 568.2,404.4 573.3,391 579.5,370.5 583.6,358.2 586.7,350 590.4,340 596,323 605.6,307 612,294.4 618.4,281.6 628,266.4 639.5,254.4" stroke="#0a32ff" stroke-width="1.1" fill="none"/>
<polyline points="645.6,168.5 655,149.4 670.2,230.2 707.3,34.9 719.9,91.9 729.6,22" stroke="#0a32ff" stroke-width="3" fill="none" stroke-linejoin="bevel"/>
<polygon points="731.7,8.8 722.2,20.7 737.2,22.5" fill="#0a32ff"/>
<polyline points="661,251.3 689.5,251.3 698.7,348" stroke="#6c6765" stroke-width="2.8" fill="none" stroke-linejoin="bevel"/>
<polygon points="700.3,360.5 691.4,348.6 707.2,347.6" fill="#6c6765"/>
<g fill="#7d7775">
<text x="729.3" y="14.5">1,17750</text>
<rect x="776.9" y="10.4" width="3.1" height="1.5" fill="#000"/>
<text x="729.3" y="85.5">1,17500</text>
<rect x="776.9" y="81.45" width="3.1" height="1.5" fill="#000"/>
<text x="729.3" y="155.5">1,17250</text>
<rect x="776.9" y="152.45" width="3.1" height="1.5" fill="#000"/>
<text x="729.3" y="226.5">1,17000</text>
<rect x="776.9" y="223.55" width="3.1" height="1.5" fill="#000"/>
<text x="729.3" y="297.5">1,16750</text>
<rect x="776.9" y="293.55" width="3.1" height="1.5" fill="#000"/>
<text x="729.3" y="368.5">1,16500</text>
<rect x="776.9" y="365.65" width="3.1" height="1.5" fill="#000"/>
<text x="729.3" y="439.5">1,16250</text>
<rect x="776.9" y="436.65" width="3.1" height="1.5" fill="#000"/>
<text x="729.3" y="511.5">1,16000</text>
<rect x="776.9" y="507.75" width="3.1" height="1.5" fill="#000"/>
<text x="729.3" y="582.5">1,15750</text>
<rect x="776.9" y="578.6" width="3.1" height="1.5" fill="#000"/>
</g>
<polygon points="719.8,162.3 728.1,152.7 780,152.7 780,171.8 728.1,171.8" fill="#000"/>
<text x="729.3" y="166.5" fill="#f2f2f2">1,17219</text>
<polygon points="719.7,217.5 728.3,209.2 780,209.2 780,227.8 728.3,227.8" fill="#6c6765"/>
<text x="729.3" y="222.5" fill="#f2f2f2">1,17021</text>
<polygon points="719.7,340.5 728.3,332.2 780,332.2 780,350.8 728.3,350.8" fill="#6c6765"/>
<text x="729.3" y="345.5" fill="#f2f2f2">1,16588</text>
<polygon points="719.7,357.5 728.3,349.2 780,349.2 780,367.8 728.3,367.8" fill="#6c6765"/>
<text x="729.3" y="362.5" fill="#f2f2f2">1,16527</text>
<polygon points="719.7,411.5 728.3,403.2 780,403.2 780,421.8 728.3,421.8" fill="#6c6765"/>
<text x="729.3" y="416.5" fill="#f2f2f2">1,16338</text>
<polygon points="719.7,442.5 728.3,433.0 780,433.0 780,451.6 728.3,451.6" fill="#6c6765"/>
<text x="729.3" y="446.3" fill="#f2f2f2">1,16231</text>
<polygon points="719.7,456.5 728.3,448.2 780,448.2 780,466.8 728.3,466.8" fill="#6c6765"/>
<text x="729.3" y="461.5" fill="#f2f2f2">1,16179</text>
<g fill="#111">
<text x="22.8" y="17" xml:space="preserve">EUR/USD (FOREX, Bid)<tspan dx="5.7">O: 1,17170</tspan><tspan dx="6.3">H: 1,17242</tspan><tspan dx="5">L: 1,17150</tspan><tspan dx="6.3">C: 1,17219</tspan></text>
<text x="22.8" y="65" xml:space="preserve">08.01.2026 18:00 - 07:00<tspan dx="9.1">(2 Wochen, 1 Stunde)</tspan></text>
</g>
<text x="22.8" y="33" fill="#0a32ff" xml:space="preserve">EMA(50)<tspan dx="5.8">1,16890</tspan></text>
<text x="22.8" y="49" fill="#ff0000" xml:space="preserve">EMA(200)<tspan dx="5.8">1,16637</tspan></text>
<rect x="9" y="28" width="8" height="2.8" rx="0.5" fill="#0a32ff"/>
<rect x="9" y="44" width="8" height="2.8" rx="0.5" fill="#ff0000"/>
<g stroke="#000" stroke-width="1" fill="#fff"><line x1="7.4" y1="14" x2="7.4" y2="17.7"/><rect x="6.55" y="9.6" width="1.7" height="4"/><line x1="11.4" y1="7.2" x2="11.4" y2="17.7"/><rect x="10.75" y="11" width="1.3" height="4"/><line x1="15.6" y1="9.5" x2="15.6" y2="13"/><rect x="14.75" y="13.3" width="1.7" height="3.9"/></g>
<g stroke="#111" stroke-width="1.05" fill="none"><circle cx="12.5" cy="60.4" r="5.05"/><polyline points="12.3,57.6 12.3,60.6 14.7,62.4"/></g>
</svg></body></html>
